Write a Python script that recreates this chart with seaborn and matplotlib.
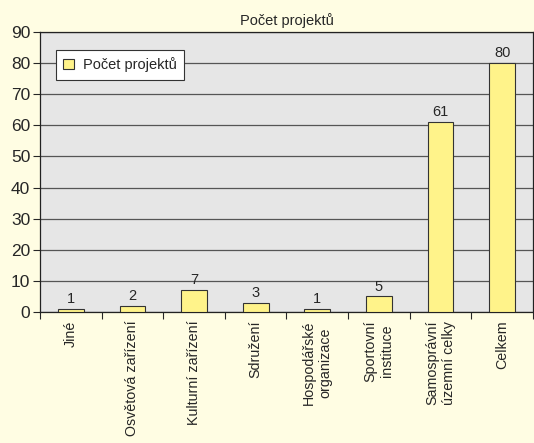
import numpy as np
import pandas as pd
import seaborn as sns
import matplotlib.pyplot as plt
from matplotlib.ticker import FixedLocator

categories = ["Jiné", "Osvětová zařízení", "Kulturní zařízení", "Sdružení",
              "Hospodářské\norganizace", "Sportovní\ninstituce",
              "Samosprávní\núzemní celky", "Celkem"]
values = [1, 2, 7, 3, 1, 5, 61, 80]
series_name = "Počet projektů"

sns.set_style("white")
plt.rcParams['font.family'] = ['Liberation Sans', 'DejaVu Sans']

df = pd.DataFrame({"kategorie": categories, "pocet": values})

fig = plt.figure(figsize=(5.34, 4.43), dpi=100, facecolor="#FFFDE3")
ax = fig.add_axes([0.075, 0.2957, 0.923, 0.632])
ax.set_facecolor("#E6E6E6")

sns.barplot(data=df, x="kategorie", y="pocet", color="#FFF38A", edgecolor="#333333",
            linewidth=0.8, width=0.42, saturation=1, label=series_name, ax=ax, zorder=3)

ax.set_ylim(0, 90)
ax.set_yticks(range(0, 91, 10))
ax.yaxis.grid(True, color="#555555", linewidth=0.9, zorder=0)
ax.set_axisbelow(True)
ax.set_xlim(-0.5, len(categories) - 0.5)

for sp in ax.spines.values():
    sp.set_color("#222222")
    sp.set_linewidth(0.9)

ax.tick_params(axis="y", labelsize=12.5, length=5, width=0.8, direction="out", left=True, pad=2)
ax.tick_params(axis="x", which="major", length=0, labelsize=10.3, labelrotation=90, pad=6)
ax.xaxis.set_minor_locator(FixedLocator(np.arange(-0.5, len(categories), 1)))
ax.tick_params(axis="x", which="minor", length=5, width=0.8, direction="out", bottom=True)
for lab in ax.get_xticklabels():
    lab.set_verticalalignment("top")
    lab.set_horizontalalignment("center")
    lab.set_multialignment("center")

for cont in ax.containers:
    ax.bar_label(cont, fontsize=10.5, padding=2)

ax.set_xlabel("")
ax.set_ylabel("")
ax.set_title(series_name, fontsize=10.5, pad=5)

leg = ax.legend(loc="upper left", bbox_to_anchor=(0.032, 0.936), fontsize=10.5,
                fancybox=False, framealpha=1, edgecolor="#333333", borderaxespad=0,
                handlelength=0.75, handleheight=0.75, handletextpad=0.6, borderpad=0.5)
leg.get_frame().set_linewidth(0.8)

fig.savefig("out.png", dpi=100, facecolor=fig.get_facecolor())
